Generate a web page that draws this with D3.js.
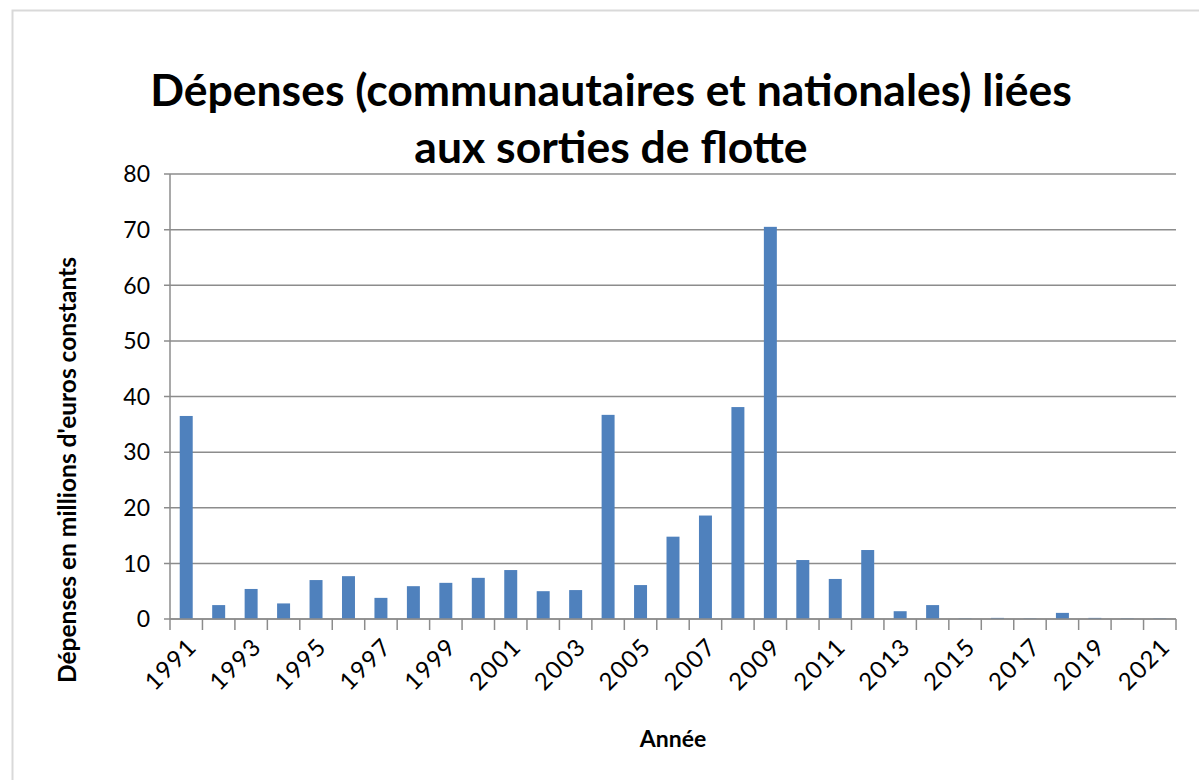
<!DOCTYPE html>
<html>
<head>
<meta charset="utf-8">
<script src="https://cdn.jsdelivr.net/npm/d3@7"></script>
<style>
  body { margin: 0; background: #fff; }
  text { font-family: Lato, "Liberation Sans", sans-serif; fill: #000; }
</style>
</head>
<body>
<svg id="chart"></svg>
<script>
// chart data
const years = d3.range(1991, 2022);
const spending = [36.5, 2.5, 5.4, 2.8, 7.0, 7.7, 3.8, 5.9, 6.5, 7.4, 8.8, 5.0, 5.2, 36.7, 6.1,
                  14.8, 18.6, 38.1, 70.5, 10.6, 7.2, 12.4, 1.4, 2.5, 0.1, 0.2, 0.1, 1.1, 0.2, 0.1, 0.1];
const yTicks = [0, 10, 20, 30, 40, 50, 60, 70, 80];
const labelYears = years.filter((d, i) => i % 2 === 0);
const titleLines = ["Dépenses (communautaires et nationales) liées", "aux sorties de flotte"];

const width = 1199, height = 780;
const margin = {top: 174, right: 23, bottom: 161, left: 170};

const svg = d3.select("#chart")
    .attr("width", width)
    .attr("height", height);

// outer chart frame
svg.append("rect")
    .attr("x", 12.5).attr("y", 10.5)
    .attr("width", 1200).attr("height", 800)
    .attr("fill", "#fff")
    .attr("stroke", "#d9d9d9")
    .attr("stroke-width", 2);

const x = d3.scaleBand()
    .domain(years)
    .range([margin.left, width - margin.right])
    .paddingInner(0.6)
    .paddingOuter(0.3);

const y = d3.scaleLinear()
    .domain([0, 80])
    .range([height - margin.bottom, margin.top]);

// gridlines
svg.append("g")
    .selectAll("line")
    .data(yTicks)
    .join("line")
    .attr("x1", margin.left - 6)
    .attr("x2", width - margin.right)
    .attr("y1", d => y(d))
    .attr("y2", d => y(d))
    .attr("stroke", "#8c8c8c")
    .attr("stroke-width", 1.5);

// y labels
svg.append("g")
    .selectAll("text")
    .data(yTicks)
    .join("text")
    .attr("x", 150)
    .attr("y", d => y(d))
    .attr("dy", "0.36em")
    .attr("text-anchor", "end")
    .style("font-size", "23px")
    .text(d => d);

// y axis line
svg.append("line")
    .attr("x1", margin.left).attr("x2", margin.left)
    .attr("y1", y(80)).attr("y2", y(0) + 11)
    .attr("stroke", "#8c8c8c")
    .attr("stroke-width", 1.5);

// bars
svg.append("g")
    .selectAll("rect")
    .data(years)
    .join("rect")
    .attr("x", d => x(d))
    .attr("y", (d, i) => y(spending[i]))
    .attr("width", x.bandwidth())
    .attr("height", (d, i) => y(0) - y(spending[i]))
    .attr("fill", "#4f81bd");

// x axis line + ticks at category boundaries
svg.append("line")
    .attr("x1", margin.left).attr("x2", width - margin.right)
    .attr("y1", y(0)).attr("y2", y(0))
    .attr("stroke", "#8c8c8c")
    .attr("stroke-width", 1.5);

svg.append("g")
    .selectAll("line")
    .data(years)
    .join("line")
    .attr("x1", d => x(d) + x.bandwidth() / 2 + x.step() / 2)
    .attr("x2", d => x(d) + x.bandwidth() / 2 + x.step() / 2)
    .attr("y1", y(0))
    .attr("y2", y(0) + 11)
    .attr("stroke", "#8c8c8c")
    .attr("stroke-width", 1.5);

// x labels, rotated
svg.append("g")
    .selectAll("text")
    .data(labelYears)
    .join("text")
    .attr("transform", d => `translate(${x(d) + x.bandwidth() / 2 + 6},${y(0) + 23}) rotate(-45)`)
    .attr("text-anchor", "end")
    .attr("dy", "0.36em")
    .style("font-size", "24px")
    .style("letter-spacing", "1.5px")
    .text(d => d);

// title
svg.append("g")
    .selectAll("text")
    .data(titleLines)
    .join("text")
    .attr("x", 611)
    .attr("y", (d, i) => 106 + i * 57)
    .attr("text-anchor", "middle")
    .style("font-size", "44.5px")
    .style("font-weight", "bold")
    .text(d => d);

// axis titles
svg.append("text")
    .attr("x", 673)
    .attr("y", 747)
    .attr("text-anchor", "middle")
    .style("font-size", "23px")
    .style("font-weight", "bold")
    .text("Année");

svg.append("text")
    .attr("transform", `translate(76,470) rotate(-90)`)
    .attr("text-anchor", "middle")
    .style("font-size", "24.5px")
    .style("font-weight", "bold")
    .text("Dépenses en millions d'euros constants");
</script>
</body>
</html>
